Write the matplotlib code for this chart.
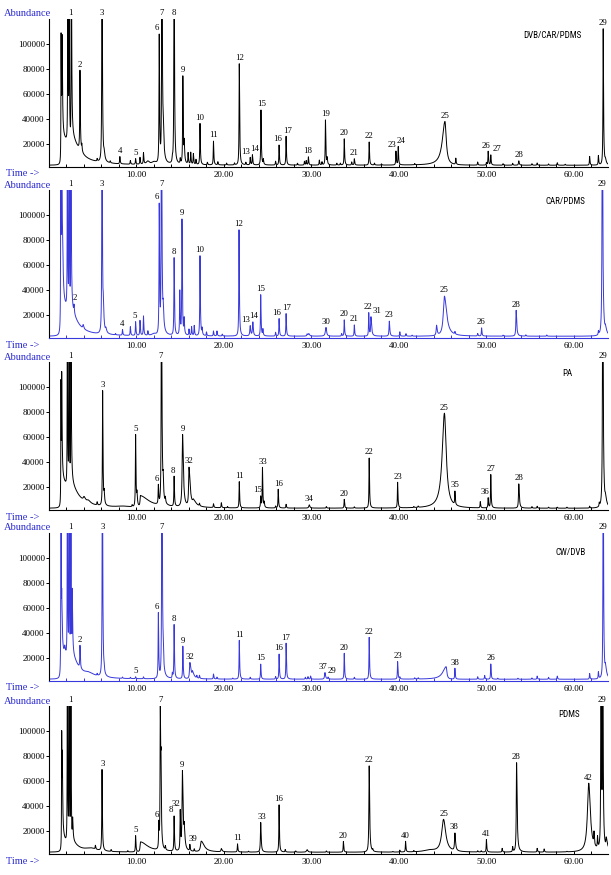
import matplotlib
matplotlib.use("Agg")
import matplotlib.pyplot as plt
import numpy as np

# peaks: (retention time, height above baseline[, left width, right width])
dvb_car_pdms = [
    (1.38, 102000, 0.02, 0.04), (1.50, 72000, 0.02, 0.05), (1.45, 22000, 0.02, 1.1),
    (2.15, 200000, 0.02, 0.03), (2.30, 200000, 0.02, 0.03), (2.55, 200000, 0.02, 0.04),
    (2.62, 12000, 0.05, 1.0), (3.54, 64000), (3.75, 5000), (5.5, 2000), (6.06, 200000),
    (6.3, 5000, 0.05, 0.1), (7.0, 1500), (8.1, 5800), (9.3, 3000), (9.9, 4500), (10.4, 5500),
    (10.8, 9000), (11.3, 2500, 0.2, 0.2), (12.0, 2000, 0.3, 0.3), (12.6, 102000),
    (12.9, 200000, 0.03, 0.06), (13.05, 16000, 0.03, 0.08), (14.1, 4000), (14.3, 200000),
    (15.0, 4000), (15.3, 70000), (15.45, 15000, 0.03, 0.06), (15.9, 9000), (16.2, 9500),
    (16.5, 8500), (16.8, 4000), (17.26, 33000), (18.1, 2000), (18.8, 19000), (19.3, 2500),
    (20.3, 1500), (21.2, 1500), (21.75, 81000), (22.5, 2000), (23.0, 6000), (23.25, 8000),
    (24.23, 44000), (24.5, 4000), (25.9, 3000), (26.3, 16000), (27.1, 23000), (28.4, 1500),
    (29.2, 3000), (29.4, 3500), (29.65, 6500), (30.9, 4000), (31.2, 2500), (31.6, 36000),
    (31.8, 5000), (32.9, 1500), (33.3, 1500), (33.75, 21000), (34.6, 2500), (34.9, 5000),
    (36.6, 18500), (37.2, 1500), (38.0, 1000), (39.66, 11000), (39.92, 14500), (41.8, 1000),
    (45.26, 35000, 0.35, 0.18), (46.5, 5000), (49.0, 2500), (50.0, 2000), (50.2, 11000),
    (50.5, 8000), (51.9, 1200), (53.0, 1500), (53.7, 3500, 0.04, 0.06), (55.2, 1200),
    (55.8, 1800), (57.1, 1000), (58.1, 2000), (59.0, 800), (61.8, 7000), (62.8, 7500),
    (63.35, 109000), (63.6, 3000, 0.05, 0.1),
]
dvb_car_pdms_labels = [
    ("1", 2.5, 2.3), ("2", 3.54, 3.54), ("3", 6.06, 6.06), ("4", 8.1, 8.1), ("5", 9.9, 9.9),
    ("6", 12.3, 12.6), ("7", 12.9, 12.9), ("8", 14.3, 14.3), ("9", 15.35, 15.3),
    ("10", 17.2, 17.26), ("11", 18.8, 18.8), ("12", 21.75, 21.75), ("13", 22.5, 23.0),
    ("14", 23.45, 23.25), ("15", 24.3, 24.23), ("16", 26.1, 26.3), ("17", 27.3, 27.1),
    ("18", 29.6, 29.65), ("19", 31.6, 31.6), ("20", 33.75, 33.75), ("21", 34.9, 34.9),
    ("22", 36.6, 36.6), ("23", 39.2, 39.66), ("24", 40.2, 39.92), ("25", 45.26, 45.26),
    ("26", 49.9, 50.2), ("27", 51.2, 50.5), ("28", 53.7, 53.7), ("29", 63.35, 63.35),
]

car_pdms = [
    (1.35, 200000, 0.02, 0.03), (1.45, 200000, 0.02, 0.04), (1.55, 30000, 0.03, 0.08),
    (1.5, 25000, 0.02, 1.0), (2.1, 200000, 0.02, 0.03), (2.3, 200000, 0.02, 0.03),
    (2.5, 200000, 0.02, 0.04), (2.6, 8000, 0.05, 0.8), (2.86, 6000), (3.9, 3000, 0.05, 0.08),
    (6.06, 200000), (6.2, 15000, 0.03, 0.08), (6.5, 3000, 0.05, 0.1), (7.6, 1000), (8.4, 4500),
    (9.3, 7000), (9.9, 11000), (10.4, 12000), (10.8, 15500), (11.3, 3500),
    (12.0, 1500, 0.3, 0.3), (12.6, 103000), (12.85, 200000, 0.03, 0.06), (13.05, 12000, 0.03, 0.08),
    (14.3, 62000), (14.95, 35000), (15.2, 92000), (15.45, 12000), (16.0, 5000), (16.3, 7000),
    (16.6, 8000), (17.26, 64000), (17.5, 5000), (18.0, 3000), (18.8, 4000), (19.2, 4000),
    (19.8, 1500), (21.72, 85000), (23.0, 8000, 0.05, 0.06), (23.3, 11000, 0.05, 0.06),
    (24.2, 33000), (24.45, 5000), (25.9, 3000), (26.3, 14000), (27.1, 18000), (29.5, 1500),
    (29.7, 2000, 0.1, 0.1), (31.66, 7000, 0.08, 0.08), (33.45, 2000), (33.75, 13000),
    (34.9, 9000), (36.55, 18500), (36.8, 15000, 0.04, 0.08), (38.9, 12000, 0.04, 0.06),
    (40.1, 3500), (40.8, 2000), (41.5, 800), (44.3, 8000, 0.05, 0.08),
    (45.2, 32000, 0.15, 0.3), (46.4, 2000), (49.0, 2000), (49.45, 6500), (51.9, 800),
    (53.4, 20700, 0.04, 0.07), (54.5, 1000), (56.9, 1000), (62.8, 3000),
    (63.25, 200000, 0.04, 0.06), (63.6, 4000, 0.05, 0.15),
]
car_pdms_labels = [
    ("1", 2.46, 2.3), ("2", 3.0, 2.86), ("3", 6.06, 6.06), ("4", 8.4, 8.4), ("5", 9.85, 9.9),
    ("6", 12.3, 12.6), ("7", 12.9, 12.85), ("8", 14.3, 14.3), ("9", 15.25, 15.2),
    ("10", 17.26, 17.26), ("12", 21.7, 21.72), ("13", 22.5, 23.0), ("14", 23.35, 23.3),
    ("15", 24.23, 24.2), ("16", 26.0, 26.3), ("17", 27.2, 27.1), ("30", 31.66, 31.66),
    ("20", 33.75, 33.75), ("21", 34.9, 34.9), ("22", 36.45, 36.55), ("31", 37.5, 36.8),
    ("23", 38.9, 38.9), ("25", 45.2, 45.2), ("26", 49.4, 49.45), ("28", 53.4, 53.4),
    ("29", 63.25, 63.25),
]

pa = [
    (1.37, 97000, 0.02, 0.03), (1.45, 75000, 0.02, 0.05), (1.45, 22000, 0.02, 0.9),
    (2.1, 200000, 0.02, 0.03), (2.3, 200000, 0.02, 0.03), (2.5, 200000, 0.02, 0.04),
    (2.6, 10000, 0.05, 1.0), (4.0, 3000, 0.1, 0.2), (4.5, 2000, 0.2, 0.3), (5.5, 2500),
    (6.13, 92000), (6.3, 8000, 0.03, 0.06), (8.5, 1000, 1.0, 1.0), (9.5, 1500), (9.9, 57800),
    (10.05, 9000, 0.03, 0.06), (10.45, 9000, 0.05, 1.2), (12.5, 15000),
    (12.85, 200000, 0.03, 0.06), (13.05, 12000), (13.3, 4000), (14.3, 24000),
    (15.27, 58000, 0.06, 0.1), (16.0, 31000, 0.05, 0.15), (16.5, 4000, 0.1, 0.4), (17.2, 2000),
    (18.8, 3000), (19.7, 4000), (20.4, 1000), (21.75, 21000), (24.2, 9000), (24.4, 32000),
    (24.6, 4000), (25.9, 1500), (26.2, 15000), (27.1, 3000), (29.75, 2600, 0.06, 0.08),
    (31.7, 1200), (33.75, 7000), (34.9, 1000), (36.6, 40000), (39.85, 20500), (41.7, 800),
    (42.2, 1000), (45.2, 76000, 0.3, 0.25), (46.4, 10600), (49.3, 5000), (50.2, 8000),
    (50.5, 26600), (53.7, 19400, 0.04, 0.07), (55.2, 1200), (55.8, 1500), (57.1, 800),
    (58.1, 800), (59.2, 800), (61.8, 1500), (62.9, 3000), (63.3, 200000, 0.04, 0.06),
    (63.6, 5000, 0.05, 0.15),
]
pa_labels = [
    ("1", 2.5, 2.3), ("3", 6.13, 6.13), ("5", 9.9, 9.9), ("6", 12.27, 12.5), ("7", 12.8, 12.85),
    ("8", 14.2, 14.3), ("9", 15.27, 15.27), ("32", 16.0, 16.0), ("11", 21.75, 21.75),
    ("15", 23.8, 24.2), ("33", 24.4, 24.4), ("16", 26.2, 26.2), ("34", 29.75, 29.75),
    ("20", 33.75, 33.75), ("22", 36.6, 36.6), ("23", 39.85, 39.85), ("25", 45.2, 45.2),
    ("35", 46.4, 46.4), ("36", 49.85, 50.2), ("27", 50.5, 50.5), ("28", 53.7, 53.7),
    ("29", 63.3, 63.3),
]

cw_dvb = [
    (1.37, 200000, 0.02, 0.03), (1.45, 45000, 0.02, 0.05), (1.5, 20000, 0.02, 0.9),
    (1.8, 6000, 0.05, 0.1), (2.1, 200000, 0.02, 0.03), (2.3, 200000, 0.02, 0.03),
    (2.5, 200000, 0.02, 0.03), (2.65, 50000, 0.02, 0.05), (2.7, 10000, 0.05, 0.8),
    (3.54, 18000), (4.5, 2500, 0.5, 0.8), (5.5, 1500), (6.1, 200000), (6.3, 3000), (8.4, 1000),
    (9.3, 1000), (9.9, 1500), (10.8, 1500), (12.5, 52000), (12.9, 200000, 0.03, 0.06),
    (13.05, 8000), (14.1, 4000), (14.3, 43000), (15.3, 26000), (16.1, 13000, 0.05, 0.15),
    (16.4, 4000, 0.05, 0.2), (16.9, 2000), (17.2, 2500), (18.8, 4000), (19.2, 1500),
    (21.0, 800), (21.75, 31000), (23.0, 1500), (24.2, 12000), (25.9, 2000), (26.3, 20000),
    (27.1, 28700), (29.3, 1500), (29.6, 2000), (29.9, 2500), (31.54, 5300, 0.05, 0.08),
    (31.9, 1500), (33.75, 20700), (34.9, 1500), (36.6, 33500), (39.85, 14000), (40.1, 1500),
    (41.8, 1000), (42.2, 1000), (45.4, 10000, 0.45, 0.1), (46.4, 8700), (49.0, 2000),
    (49.8, 3000), (50.5, 12200), (51.3, 800), (53.6, 800), (55.2, 1000), (55.8, 2500),
    (57.1, 1500), (58.1, 2500), (61.8, 4500), (62.8, 5500), (63.35, 200000),
    (63.6, 7000, 0.05, 0.15),
]
cw_dvb_labels = [
    ("1", 2.5, 2.3), ("2", 3.54, 3.54), ("3", 6.1, 6.1), ("5", 9.9, 9.9), ("6", 12.35, 12.5),
    ("7", 12.9, 12.9), ("8", 14.3, 14.3), ("9", 15.3, 15.3), ("32", 16.1, 16.1),
    ("11", 21.75, 21.75), ("15", 24.2, 24.2), ("16", 26.2, 26.3), ("17", 27.1, 27.1),
    ("37", 31.3, 31.54), ("29", 32.35, 31.9), ("20", 33.7, 33.75), ("22", 36.6, 36.6),
    ("23", 39.85, 39.85), ("38", 46.4, 46.4), ("26", 50.5, 50.5), ("29", 63.3, 63.35),
]

pdms = [
    (1.45, 91000, 0.02, 0.03), (1.52, 55000, 0.02, 0.05), (1.5, 12000, 0.02, 0.5),
    (2.1, 200000, 0.02, 0.03), (2.3, 200000, 0.02, 0.03), (2.5, 200000, 0.02, 0.03),
    (2.7, 15000, 0.03, 0.06), (2.7, 5000, 0.05, 0.8), (4.8, 2500, 0.8, 0.8), (5.3, 3000),
    (6.06, 65000), (7.1, 1500), (9.0, 1000), (9.9, 13000), (10.45, 8000, 0.05, 1.0),
    (12.55, 20000), (12.72, 110000, 0.03, 0.05), (12.8, 50000, 0.03, 0.05), (13.3, 3000),
    (14.3, 28000), (15.0, 31000), (15.25, 63000, 0.05, 0.08), (15.45, 15000, 0.05, 0.1),
    (16.1, 5000), (16.6, 2000), (17.4, 8500, 0.1, 0.4), (19.7, 2500, 0.05, 0.1),
    (21.55, 6500), (22.8, 700), (24.2, 23700, 0.04, 0.06), (26.3, 37800), (27.0, 2000),
    (28.2, 1000), (29.5, 2000, 0.08, 0.1), (31.7, 1000), (33.65, 8500),
    (36.6, 69000, 0.04, 0.06), (37.0, 1500), (39.3, 500), (40.1, 1500), (40.76, 8500),
    (41.7, 1000), (43.5, 1500, 0.8, 0.8), (45.1, 26000, 0.25, 0.3), (46.4, 14000, 0.05, 0.08),
    (49.0, 1000), (49.4, 1000), (50.0, 10000), (51.8, 3000), (53.0, 4000),
    (53.45, 71500, 0.04, 0.07), (55.8, 3000), (56.6, 2500), (59.2, 500),
    (61.7, 55000, 0.18, 0.22), (62.3, 10000, 0.04, 0.05), (62.7, 9000), (63.1, 200000),
    (63.3, 200000), (63.7, 8000, 0.05, 0.15),
]
pdms_labels = [
    ("1", 2.5, 2.3), ("3", 6.1, 6.06), ("5", 9.9, 9.9), ("6", 12.3, 12.55), ("7", 12.72, 12.72),
    ("8", 13.9, 14.3), ("32", 14.5, 15.0), ("9", 15.25, 15.25), ("39", 16.4, 16.1),
    ("11", 21.55, 21.55), ("33", 24.3, 24.2), ("16", 26.2, 26.3), ("20", 33.6, 33.65),
    ("22", 36.6, 36.6), ("40", 40.7, 40.76), ("25", 45.1, 45.1), ("38", 46.3, 46.4),
    ("41", 50.0, 50.0), ("28", 53.4, 53.45), ("42", 61.65, 61.7), ("29", 63.2, 63.2),
]

fibres = ["DVB/CAR/PDMS", "CAR/PDMS", "PA", "CW/DVB", "PDMS"]
baseline = 3000
blue = "#3838dc"
text_blue = "#2a2ad2"


def chromatogram(t, peaks):
    y = np.full_like(t, baseline, dtype=float)
    for p in peaks:
        rt, h = p[0], p[1]
        wl, wr = (p[2], p[3]) if len(p) > 2 else (0.03, 0.045)
        w = np.where(t < rt, wl, wr)
        y += h / (1 + ((t - rt) / w) ** 2)
    return y


if __name__ == "__main__":
    plt.rcParams["font.family"] = ["Liberation Serif", "DejaVu Serif"]
    fig = plt.figure(figsize=(6.11, 8.75), dpi=100)
    W, H = 611.0, 875.0
    tops = [19, 190, 362, 533, 706]
    panel_h = 147.5
    panels = [dvb_car_pdms, car_pdms, pa, cw_dvb, pdms]
    labels = [dvb_car_pdms_labels, car_pdms_labels, pa_labels, cw_dvb_labels, pdms_labels]
    colors = ["black", blue, "black", blue, "black"]
    title_pos = [(0.953, 0.885), (0.959, 0.92), (0.937, 0.925), (0.96, 0.871), (0.95, 0.939)]
    t = np.arange(0, 64, 0.005)
    ymin, ymax = 2000, 120000

    for i in range(5):
        ax = fig.add_axes([49 / W, 1 - (tops[i] + panel_h) / H, 559 / W, panel_h / H])
        y = chromatogram(t, panels[i])
        ax.plot(t, y, color=colors[i], linewidth=0.7)
        ax.set_xlim(0, 63.9)
        ax.set_ylim(ymin, ymax)
        for s in ["top", "right"]:
            ax.spines[s].set_visible(False)
        ax.spines["left"].set_linewidth(0.8)
        ax.spines["bottom"].set_color(colors[i])
        ax.spines["bottom"].set_linewidth(0.8)
        ax.set_yticks([20000, 40000, 60000, 80000, 100000])
        ax.set_yticklabels([str(v) for v in [20000, 40000, 60000, 80000, 100000]])
        ax.tick_params(axis="y", direction="out", length=2.5, width=0.7, pad=0.5, labelsize=6.5)
        ax.set_xticks([10, 20, 30, 40, 50, 60])
        ax.set_xticklabels(["%.2f" % v for v in [10, 20, 30, 40, 50, 60]])
        ax.set_xticks(np.arange(2, 64, 2), minor=True)
        ax.tick_params(axis="x", which="both", direction="in", length=2.5, width=0.7,
                       pad=3.5, labelsize=6.5, color=colors[i])

        for txt, xl, xp in labels[i]:
            m = np.abs(t - xp) < 0.08
            top = min(y[m].max(), ymax)
            ax.annotate(txt, xy=(xl, top), xytext=(0, 1.2), textcoords="offset points",
                        ha="center", va="bottom", fontsize=6.3, annotation_clip=False)

        ax.text(title_pos[i][0], title_pos[i][1], fibres[i], transform=ax.transAxes,
                ha="right", va="center", fontsize=6.5, fontstretch="condensed",
                family=["Liberation Sans Narrow", "Roboto Condensed", "DejaVu Sans"])

        ax.text(0.003, 1 + 5 / panel_h, "Abundance", transform=ax.transAxes, ha="right",
                va="center", fontsize=7.5, color=text_blue)
        ax.text(-0.017, -7.5 / panel_h, "Time ->", transform=ax.transAxes, ha="right",
                va="center", fontsize=7.5, color=text_blue)

    fig.savefig("out.png", dpi=100)
